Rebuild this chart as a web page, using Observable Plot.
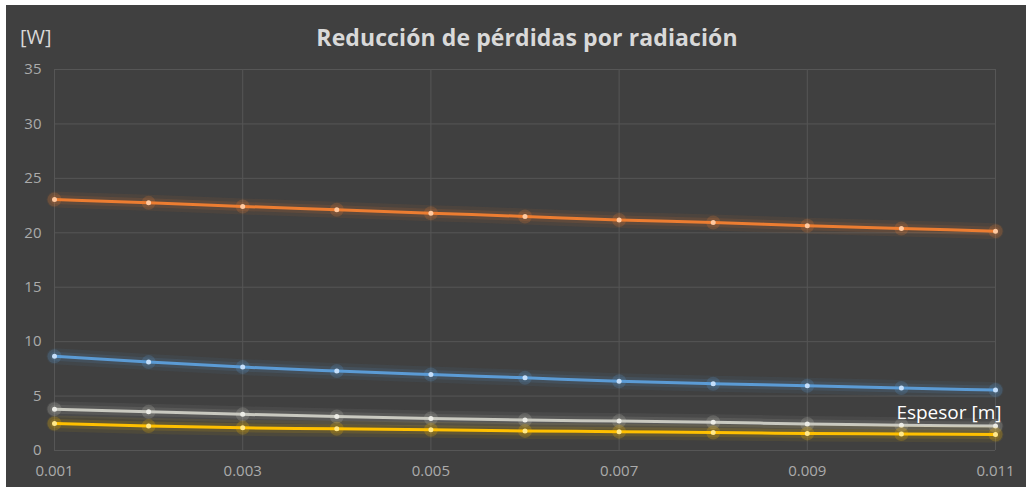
<!DOCTYPE html>
<html>
<head>
<meta charset="utf-8">
<script src="https://cdn.jsdelivr.net/npm/d3@7"></script>
<script src="https://cdn.jsdelivr.net/npm/@observablehq/plot@0.6"></script>
<style>
  html, body { margin: 0; padding: 0; background: #ffffff; }
  #panel { position: absolute; left: 6px; top: 5px; width: 1020px; height: 482px; background: #404040; font-family: "Open Sans", "Noto Sans", sans-serif; }
  #title { position: absolute; left: 0; width: 1042px; top: 16px; text-align: center; color: #d9d9d9; font-size: 23px; font-weight: bold; letter-spacing: 0.1px; }
  #unit { position: absolute; left: 14px; top: 18px; color: #d9d9d9; font-size: 20px; }
  #chart { position: absolute; left: 0; top: 0; }
</style>
</head>
<body>
<div id="panel">
  <div id="title">Reducción de pérdidas por radiación</div>
  <div id="unit">[W]</div>
  <div id="chart"></div>
</div>
<script>
const espesor = [0.001, 0.002, 0.003, 0.004, 0.005, 0.006, 0.007, 0.008, 0.009, 0.010, 0.011];
const serieNaranja = [23.05, 22.75, 22.42, 22.11, 21.8, 21.5, 21.17, 20.95, 20.65, 20.4, 20.15];
const serieAzul = [8.65, 8.12, 7.66, 7.3, 6.98, 6.68, 6.36, 6.13, 5.95, 5.74, 5.55];
const serieGris = [3.8, 3.55, 3.32, 3.13, 2.95, 2.8, 2.7, 2.6, 2.43, 2.33, 2.24];
const serieAmarilla = [2.48, 2.24, 2.08, 2.0, 1.9, 1.8, 1.73, 1.65, 1.57, 1.51, 1.47];
const xTicks = [0.001, 0.003, 0.005, 0.007, 0.009, 0.011];
const yTicks = [0, 5, 10, 15, 20, 25, 30, 35];
const xLabel = "Espesor [m]";

const series = [
  {name: "Naranja", values: serieNaranja, color: "#ed7d31", dot: "#ffc9a0"},
  {name: "Azul", values: serieAzul, color: "#5b9bd5", dot: "#c4defa"},
  {name: "Gris", values: serieGris, color: "#c9c9c0", dot: "#ececE6"},
  {name: "Amarilla", values: serieAmarilla, color: "#ffc000", dot: "#ffe88a"}
];
const data = series.flatMap(s => s.values.map((v, i) => ({serie: s.name, x: espesor[i], y: v})));

const marks = [
  Plot.gridY(yTicks, {stroke: "#565656", strokeOpacity: 1, strokeWidth: 1}),
  Plot.gridX(xTicks, {stroke: "#565656", strokeOpacity: 1, strokeWidth: 1}),
  Plot.axisY(yTicks, {tickSize: 0, tickPadding: 13, fill: "#ababab", fontSize: 15, label: null}),
  Plot.axisX(xTicks, {tickSize: 0, tickPadding: 15, fill: "#ababab", fontSize: 15, tickFormat: d => d.toFixed(3), label: null})
];
for (const s of series) {
  const d = data.filter(r => r.serie === s.name);
  marks.push(Plot.line(d, {x: "x", y: "y", stroke: s.color, strokeWidth: 16, strokeOpacity: 0.07, curve: "monotone-x"}));
  marks.push(Plot.line(d, {x: "x", y: "y", stroke: s.color, strokeWidth: 9, strokeOpacity: 0.12, curve: "monotone-x"}));
  marks.push(Plot.dot(d, {x: "x", y: "y", r: 7, fill: s.color, fillOpacity: 0.2}));
  marks.push(Plot.line(d, {x: "x", y: "y", stroke: s.color, strokeWidth: 3, curve: "monotone-x"}));
  marks.push(Plot.dot(d, {x: "x", y: "y", r: 2.5, fill: s.dot}));
}
marks.push(Plot.text([xLabel], {frameAnchor: "bottom-right", textAnchor: "end", dx: 6, dy: -32, fill: "#ffffff", fontSize: 19, text: d => d}));

const chart = Plot.plot({
  width: 1020,
  height: 482,
  marginLeft: 48,
  marginRight: 31,
  marginTop: 64,
  marginBottom: 37,
  style: {background: "transparent", fontFamily: "'Open Sans', 'Noto Sans', sans-serif", overflow: "visible"},
  x: {domain: [0.001, 0.011]},
  y: {domain: [0, 35]},
  marks
});
document.getElementById("chart").appendChild(chart);
</script>
</body>
</html>
